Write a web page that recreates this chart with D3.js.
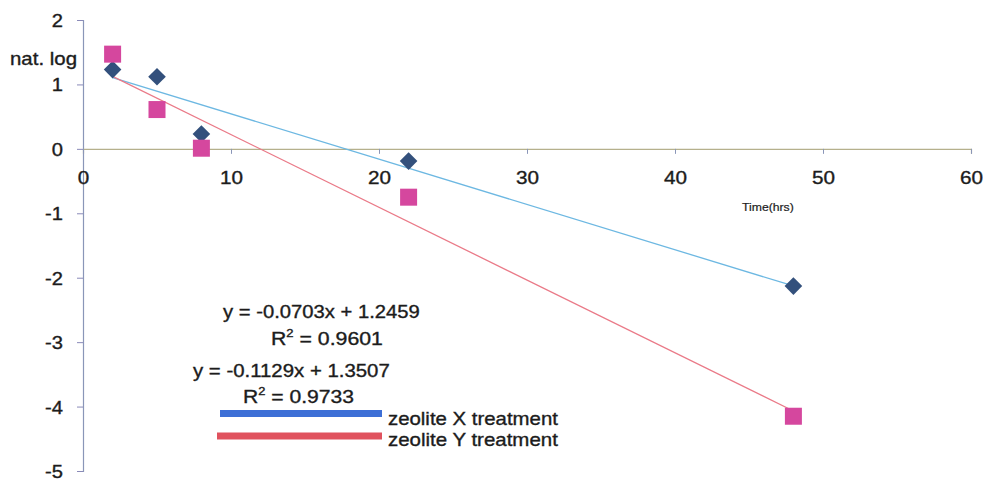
<!DOCTYPE html>
<html><head><meta charset="utf-8">
<script src="https://cdn.jsdelivr.net/npm/d3@7"></script>
<style>body{margin:0;background:#fff}svg{display:block}text{font-family:"Liberation Sans",Arial,sans-serif;fill:#1c1c1c;stroke:#1c1c1c;stroke-width:0.35px}</style>
</head><body>
<svg id="c" width="983" height="483"></svg>
<script>
const timeX = [2, 5, 8, 22, 48];
const lnX = [1.23, 1.12, 0.23, -0.19, -2.13];
const timeY = [2, 5, 8, 22, 48];
const lnY = [1.47, 0.61, 0.01, -0.75, -4.15];
const fitX = {slope: -0.0703, intercept: 1.2459, r2: "0.9601"};
const fitY = {slope: -0.1129, intercept: 1.3507, r2: "0.9733"};
const xTicks = [0, 10, 20, 30, 40, 50, 60];
const yTicks = [2, 1, 0, -1, -2, -3, -4, -5];
const seriesNames = ["zeolite X treatment", "zeolite Y treatment"];

const svg = d3.select("#c");
const x = d3.scaleLinear().domain([0, 60]).range([83, 971]);
const y = d3.scaleLinear().domain([-5, 2]).range([471, 20]);

function fit(sel, w) {
  const node = sel.node();
  const bb = node.getBBox();
  const k = w / bb.width;
  sel.attr("transform", `translate(${bb.x},0) scale(${k},1) translate(${-bb.x},0)`);
  return sel;
}
function stretchCenter(sel, k) {
  sel.each(function () {
    const bb = this.getBBox();
    const cx = bb.x + bb.width / 2;
    d3.select(this).attr("transform", `translate(${cx},0) scale(${k},1) translate(${-cx},0)`);
  });
}
function stretchRight(sel, k) {
  sel.each(function () {
    const bb = this.getBBox();
    const rx = bb.x + bb.width;
    d3.select(this).attr("transform", `translate(${rx},0) scale(${k},1) translate(${-rx},0)`);
  });
}

// y axis
const ya = svg.append("g").attr("transform", `translate(${x(0)},0)`)
  .call(d3.axisLeft(y).tickValues(yTicks).tickSize(6).tickPadding(14).tickFormat(d => String(d)));
ya.select(".domain").attr("stroke", "#8a96b8").attr("stroke-width", 1.2);
ya.selectAll(".tick line").attr("stroke", "#8a8ab8");
ya.selectAll(".tick text").attr("font-size", 18).attr("dy", "0.36em").style("font-family", "Liberation Sans, Arial");
stretchRight(ya.selectAll(".tick text"), 1.12);

// x axis at y=0
const xa = svg.append("g").attr("transform", `translate(0,${y(0)})`)
  .call(d3.axisBottom(x).tickValues(xTicks).tickSize(5).tickPadding(17).tickFormat(d => String(d)));
xa.select(".domain").attr("stroke", "#b5b08c").attr("stroke-width", 1.2);
xa.selectAll(".tick line").attr("stroke", "#8a96b8");
xa.selectAll(".tick text").attr("font-size", 18).style("font-family", "Liberation Sans, Arial");
stretchCenter(xa.selectAll(".tick text"), 1.15);

fit(svg.append("text").attr("x", 10).attr("y", 65).attr("font-size", 18).text("nat. log"), 67);
fit(svg.append("text").attr("x", 742).attr("y", 211).attr("font-size", 11.5).style("stroke-width", "0.2px").text("Time(hrs)"), 52);

// trendlines
const tl = (f, xs, col) => {
  const x0 = d3.min(xs), x1 = d3.max(xs);
  svg.append("line").attr("x1", x(x0)).attr("y1", y(f.slope * x0 + f.intercept))
    .attr("x2", x(x1)).attr("y2", y(f.slope * x1 + f.intercept))
    .attr("stroke", col).attr("stroke-width", 1.3);
};
tl(fitX, timeX, "#6db8e2");
tl(fitY, timeY, "#ea7a88");

// markers
svg.append("g").selectAll("path").data(timeX.map((t, i) => [t, lnX[i]])).join("path")
  .attr("d", d3.symbol(d3.symbolSquare, 155)())
  .attr("transform", d => `translate(${x(d[0])},${y(d[1])}) rotate(45)`)
  .attr("fill", "#33507c");
svg.append("g").selectAll("rect").data(timeY.map((t, i) => [t, lnY[i]])).join("rect")
  .attr("x", d => x(d[0]) - 8.5).attr("y", d => y(d[1]) - 8.5)
  .attr("width", 17).attr("height", 17).attr("fill", "#d5479e");

// equations
const eq = (f) => `y = ${f.slope}x + ${f.intercept}`;
fit(svg.append("text").attr("x", 223).attr("y", 318).attr("font-size", 18).text(eq(fitX)), 197);
const r1 = svg.append("text").attr("x", 271).attr("y", 345).attr("font-size", 18);
r1.append("tspan").text("R");
r1.append("tspan").attr("dy", -8).attr("font-size", 11).text("2");
r1.append("tspan").attr("dy", 8).text(" = " + fitX.r2);
fit(r1, 112);
fit(svg.append("text").attr("x", 193).attr("y", 377).attr("font-size", 18).text(eq(fitY)), 197);
const r2 = svg.append("text").attr("x", 243).attr("y", 403).attr("font-size", 18);
r2.append("tspan").text("R");
r2.append("tspan").attr("dy", -8).attr("font-size", 11).text("2");
r2.append("tspan").attr("dy", 8).text(" = " + fitY.r2);
fit(r2, 111);

// legend
const leg = [["#3d6fd6", 413.5, 220, 425], ["#e0525e", 436, 217, 446]];
leg.forEach((l, i) => {
  svg.append("line").attr("x1", l[2]).attr("x2", 382).attr("y1", l[1]).attr("y2", l[1])
    .attr("stroke", l[0]).attr("stroke-width", 7);
  fit(svg.append("text").attr("x", 388).attr("y", l[3]).attr("font-size", 18).text(seriesNames[i]), 170);
});
</script>
</body></html>
